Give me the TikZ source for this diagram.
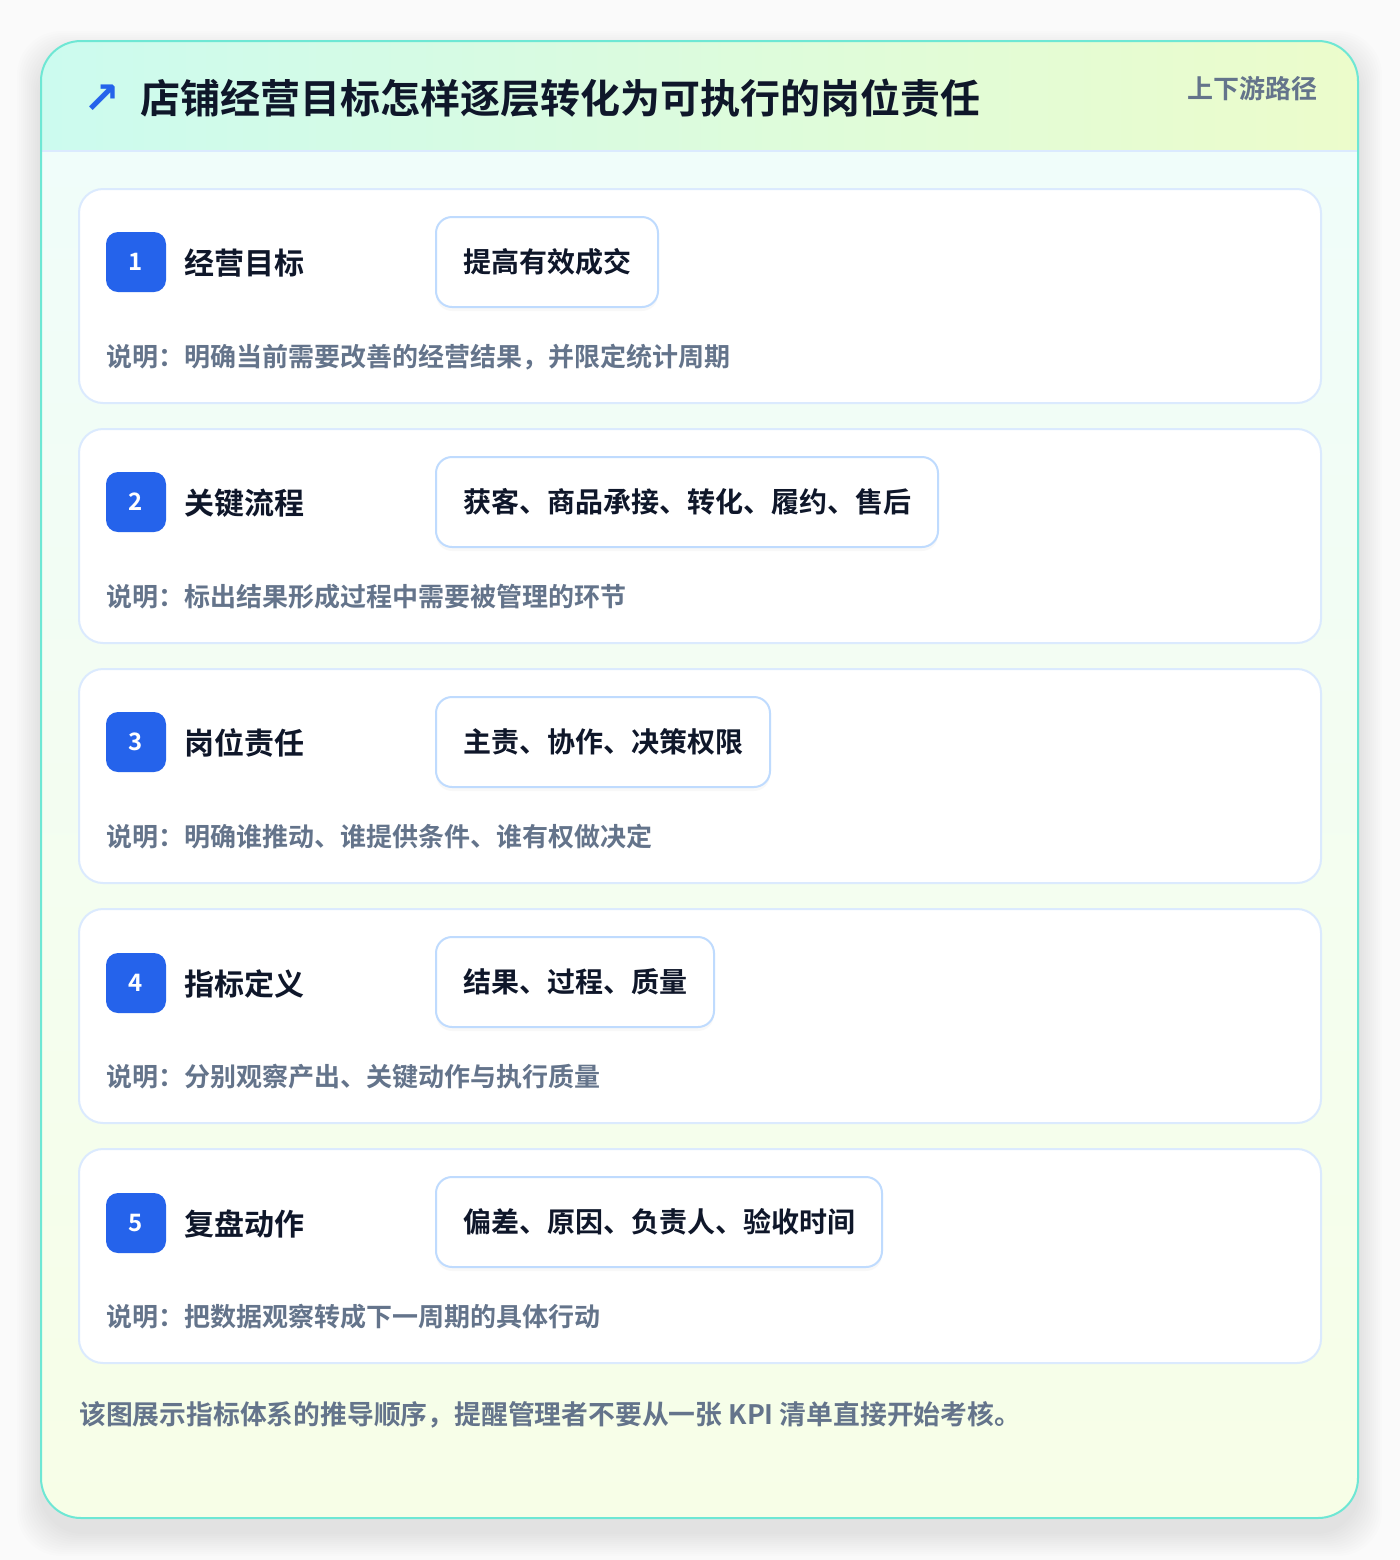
\documentclass[tikz,border=0pt]{standalone}
\usepackage{fontspec}
\setmainfont{Noto Sans CJK SC}[BoldFont={Noto Sans CJK SC Bold}]
\newfontfamily\symfont{DejaVu Sans}
\usetikzlibrary{shadows}
\definecolor{mainblue}{HTML}{2563EB}
\definecolor{inkdark}{HTML}{0F172A}
\definecolor{inkgray}{HTML}{64748B}
\definecolor{cardline}{HTML}{DBEAFE}
\definecolor{chipline}{HTML}{BFDBFE}
\definecolor{frameline}{HTML}{6EE7D4}
\definecolor{headl}{HTML}{CCFBEF}
\definecolor{headr}{HTML}{ECFCCB}
\definecolor{bodyt}{HTML}{F0FDFA}
\definecolor{bodyb}{HTML}{F7FEE7}

\begin{document}
\begin{tikzpicture}
  [x=0.5pt,y=-0.5pt]
      \tikzstyle{card_style} = [draw=cardline, line width=1pt, fill=white, rounded corners=12pt, minimum width=621pt, minimum height=107pt, inner sep=0pt]
      \tikzstyle{badge_style} = [fill=mainblue, rounded corners=6pt, minimum size=30pt, inner sep=0pt, text=white, font=\bfseries\fontsize{12}{14}\selectfont]
      \tikzstyle{label_style} = [anchor=west, inner sep=0pt, text=inkdark, font=\bfseries\fontsize{15}{18}\selectfont]
      \tikzstyle{chip_style} = [anchor=west, draw=chipline, line width=1pt, fill=white, rounded corners=8pt, minimum height=45pt, inner xsep=13.5pt, text=inkdark, font=\bfseries\fontsize{14}{17}\selectfont, drop shadow={opacity=0.05, shadow xshift=0pt, shadow yshift=-2pt}]
      \tikzstyle{note_style} = [anchor=west, inner sep=0pt, text=inkgray, font=\bfseries\fontsize{13}{16}\selectfont]
  \useasboundingbox (0,0) rectangle (1400,1560);
  \fill[white!98!black] (0,0) rectangle (1400,1560);
  % soft shadow round the frame
  \foreach \s in {2,4,...,24}
    \fill[black, fill opacity=0.006, rounded corners=22pt] (41-\s,41-\s+14) rectangle (1358+\s,1518+\s+14);
  % frame, header and body
  \begin{scope}
    \clip[rounded corners=20pt] (41,41) rectangle (1358,1518);
    \fill[top color=bodyt, bottom color=bodyb] (41,151) rectangle (1358,1518);
    \fill[left color=headl, right color=headr] (41,41) rectangle (1358,151);
    \draw[cardline, line width=1pt] (41,151) -- (1358,151);
  \end{scope}
  \draw[frameline, line width=1pt, rounded corners=20pt] (41,41) rectangle (1358,1518);
  \node[anchor=center, inner sep=0pt, text=mainblue, font=\symfont\bfseries\fontsize{22}{26}\selectfont] (icon) at (102,99) {↗};
  \node[anchor=west, inner sep=0pt, text=inkdark, font=\bfseries\fontsize{20}{24}\selectfont] (title) at (140,98) {店铺经营目标怎样逐层转化为可执行的岗位责任};
  \node[anchor=east, inner sep=0pt, text=inkgray, font=\bfseries\fontsize{13}{16}\selectfont] (tag) at (1318,89) {上下游路径};
  % five steps
  \node[card_style] (k1) at (700,296) {};
  \node[badge_style] (b1) at (136,262) {1};
  \node[label_style] (l1) at (184,263) {经营目标};
  \node[chip_style] (c1) at (435,262) {提高有效成交};
  \node[note_style] (d1) at (106,357) {说明：明确当前需要改善的经营结果，并限定统计周期};
  \node[card_style] (k2) at (700,536) {};
  \node[badge_style] (b2) at (136,502) {2};
  \node[label_style] (l2) at (184,503) {关键流程};
  \node[chip_style] (c2) at (435,502) {获客、商品承接、转化、履约、售后};
  \node[note_style] (d2) at (106,597) {说明：标出结果形成过程中需要被管理的环节};
  \node[card_style] (k3) at (700,776) {};
  \node[badge_style] (b3) at (136,742) {3};
  \node[label_style] (l3) at (184,743) {岗位责任};
  \node[chip_style] (c3) at (435,742) {主责、协作、决策权限};
  \node[note_style] (d3) at (106,837) {说明：明确谁推动、谁提供条件、谁有权做决定};
  \node[card_style] (k4) at (700,1016) {};
  \node[badge_style] (b4) at (136,983) {4};
  \node[label_style] (l4) at (184,984) {指标定义};
  \node[chip_style] (c4) at (435,982) {结果、过程、质量};
  \node[note_style] (d4) at (106,1077) {说明：分别观察产出、关键动作与执行质量};
  \node[card_style] (k5) at (700,1256) {};
  \node[badge_style] (b5) at (136,1223) {5};
  \node[label_style] (l5) at (184,1224) {复盘动作};
  \node[chip_style] (c5) at (435,1222) {偏差、原因、负责人、验收时间};
  \node[note_style] (d5) at (106,1317) {说明：把数据观察转成下一周期的具体行动};
  \node[note_style, font=\bfseries\fontsize{13.4}{16}\selectfont] (foot) at (79,1415) {该图展示指标体系的推导顺序，提醒管理者不要从一张 KPI 清单直接开始考核。};
\end{tikzpicture}
\end{document}
